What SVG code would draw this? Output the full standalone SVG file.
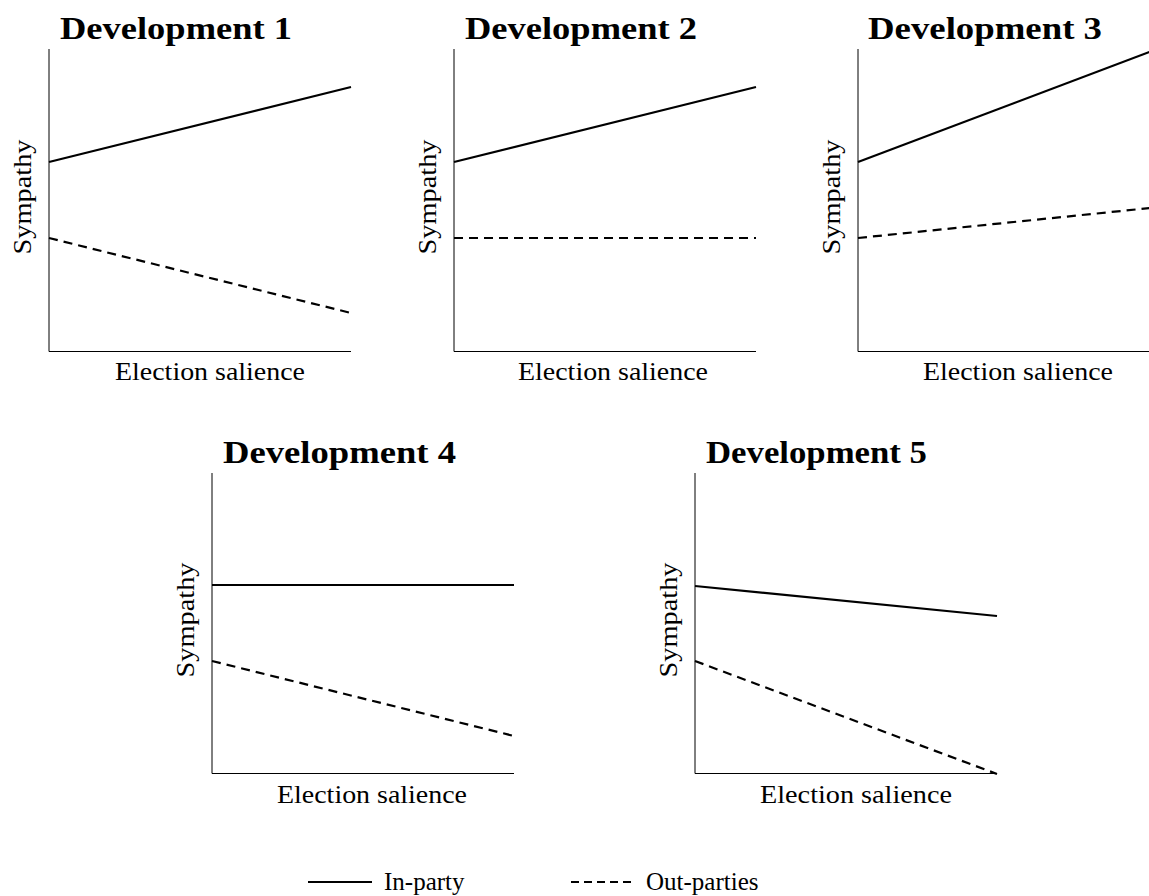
<svg xmlns="http://www.w3.org/2000/svg" width="1149" height="896" viewBox="0 0 1149 896">
<style>
.title{font-family:"Liberation Serif","DejaVu Serif",serif;font-weight:bold;font-size:31px;fill:#000}
.lab{font-family:"Liberation Serif","DejaVu Serif",serif;font-size:25px;fill:#000}
.axis{stroke:#000;stroke-width:1;fill:none}
.inp{stroke:#000;stroke-width:2.2;fill:none}
.outp{stroke:#000;stroke-width:2.2;fill:none;stroke-dasharray:9 6}
</style>
<rect width="1149" height="896" fill="#fff"/>
<g id="panel1">
<text class="title" x="60" y="39" textLength="232" lengthAdjust="spacingAndGlyphs">Development 1</text>
<path class="axis" d="M49,49 V351.5 H351"/>
<text class="lab" x="115" y="380" textLength="190" lengthAdjust="spacingAndGlyphs">Election salience</text>
<text class="lab" transform="translate(31,197) rotate(-90)" text-anchor="middle" textLength="115" lengthAdjust="spacingAndGlyphs">Sympathy</text>
</g>
<g id="panel2">
<text class="title" x="465" y="39" textLength="232" lengthAdjust="spacingAndGlyphs">Development 2</text>
<path class="axis" d="M454,49 V351.5 H756"/>
<text class="lab" x="518" y="380" textLength="190" lengthAdjust="spacingAndGlyphs">Election salience</text>
<text class="lab" transform="translate(436,197) rotate(-90)" text-anchor="middle" textLength="115" lengthAdjust="spacingAndGlyphs">Sympathy</text>
</g>
<g id="panel3">
<text class="title" x="868" y="39" textLength="234" lengthAdjust="spacingAndGlyphs">Development 3</text>
<path class="axis" d="M858,49 V351.5 H1160"/>
<text class="lab" x="923" y="380" textLength="190" lengthAdjust="spacingAndGlyphs">Election salience</text>
<text class="lab" transform="translate(840,197) rotate(-90)" text-anchor="middle" textLength="115" lengthAdjust="spacingAndGlyphs">Sympathy</text>
</g>
<g id="panel4">
<text class="title" x="223" y="463" textLength="233" lengthAdjust="spacingAndGlyphs">Development 4</text>
<path class="axis" d="M212,473 V773.5 H514"/>
<text class="lab" x="277" y="803" textLength="190" lengthAdjust="spacingAndGlyphs">Election salience</text>
<text class="lab" transform="translate(194,620) rotate(-90)" text-anchor="middle" textLength="115" lengthAdjust="spacingAndGlyphs">Sympathy</text>
</g>
<g id="panel5">
<text class="title" x="706" y="463" textLength="221" lengthAdjust="spacingAndGlyphs">Development 5</text>
<path class="axis" d="M695,473 V773.5 H997"/>
<text class="lab" x="760" y="803" textLength="192" lengthAdjust="spacingAndGlyphs">Election salience</text>
<text class="lab" transform="translate(677,620) rotate(-90)" text-anchor="middle" textLength="115" lengthAdjust="spacingAndGlyphs">Sympathy</text>
</g>
<g id="connectors">
<line class="inp" x1="49" y1="162" x2="351" y2="87"/>
<line class="outp" x1="49" y1="238" x2="351" y2="313"/>
<line class="inp" x1="454" y1="162" x2="756" y2="87"/>
<line class="outp" x1="454" y1="238" x2="756" y2="238"/>
<line class="inp" x1="858" y1="162" x2="1160" y2="48"/>
<line class="outp" x1="858" y1="238" x2="1160" y2="207"/>
<line class="inp" x1="212" y1="585" x2="514" y2="585"/>
<line class="outp" x1="212" y1="661" x2="514" y2="736"/>
<line class="inp" x1="695" y1="586" x2="997" y2="616"/>
<line class="outp" x1="695" y1="661" x2="997" y2="774"/>
</g>
<g id="legend">
<line class="inp" x1="308" y1="882" x2="372" y2="882"/>
<text class="lab" x="384" y="890">In-party</text>
<line class="outp" x1="571" y1="882" x2="631" y2="882" style="stroke-dasharray:8 5"/>
<text class="lab" x="646" y="890">Out-parties</text>
</g>
</svg>
